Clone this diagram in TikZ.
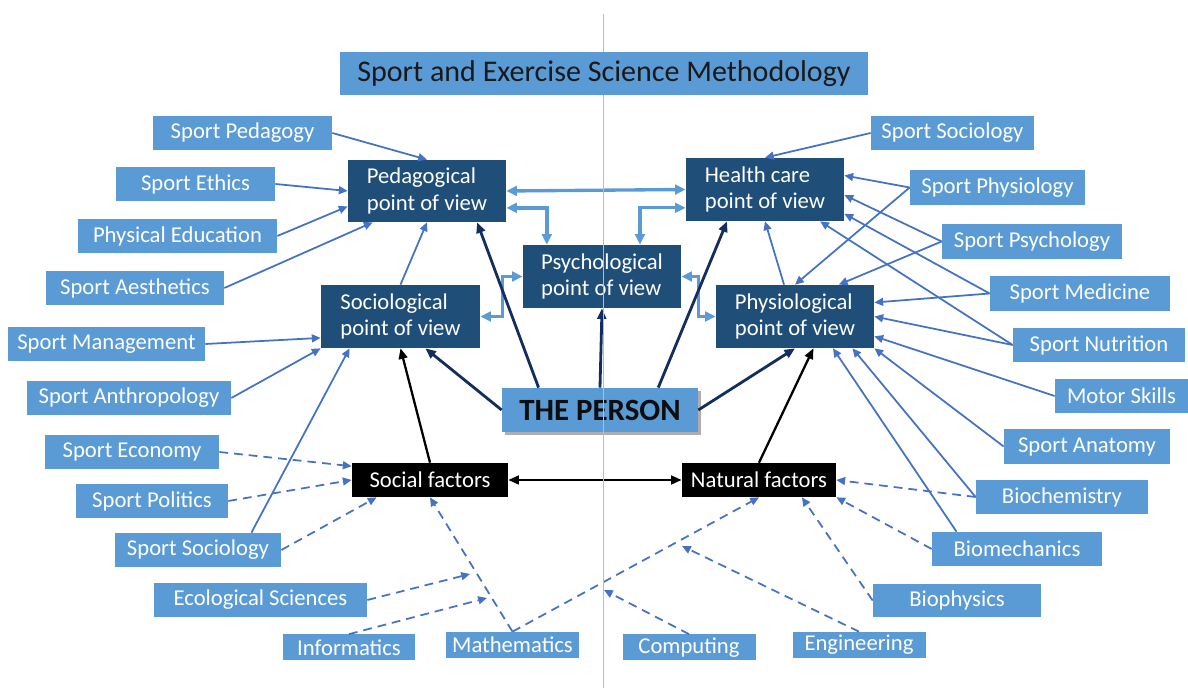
\documentclass[tikz,border=0pt]{standalone}
\usepackage{fontspec}
\setmainfont{Carlito}
\usetikzlibrary{arrows.meta,shadows}

\definecolor{boxblue}{HTML}{5B9BD5}
\definecolor{viewblue}{HTML}{1F4E79}
\definecolor{linkblue}{HTML}{4472C4}
\definecolor{navyline}{HTML}{132E5E}
\definecolor{axisblue}{HTML}{9DC3E6}

\tikzset{
  sz/.style 2 args={minimum width=#1*0.02cm, minimum height=#2*0.02cm},
  topic/.style={fill=boxblue, text=white, inner sep=0pt,
    font=\fontsize{12.9}{15}\selectfont},
  view/.style={fill=viewblue, text=white, inner sep=0pt, align=left,
    font=\fontsize{12.9}{15.3}\selectfont},
  factor/.style={fill=black, text=white, inner sep=0pt,
    font=\fontsize{12.9}{15}\selectfont},
  titlebox/.style={fill=boxblue, text=black!90, inner sep=0pt,
    font=\fontsize{17.1}{20}\selectfont},
  personbox/.style={fill=boxblue, text=black!95, inner sep=0pt,
    font=\fontsize{17.6}{20}\selectfont\bfseries,
    drop shadow={shadow xshift=1.6pt, shadow yshift=-1.6pt, opacity=0.45, fill=black!70}},
  tip/.style={-{Triangle[length=5pt,width=4.5pt]}},
  ln/.style={draw=linkblue, line width=1pt, tip},
  dl/.style={ln, dash pattern=on 5pt off 3.4pt},
  nv/.style={draw=navyline, line width=1.6pt, -{Triangle[length=6pt,width=5pt]}},
  bk/.style={draw=black, line width=1.3pt, -{Triangle[length=6pt,width=5pt]}},
  bkboth/.style={draw=black, line width=1.3pt,
    {Triangle[length=6pt,width=5pt]}-{Triangle[length=6pt,width=5pt]}},
  dbl/.style={draw=boxblue, line width=1.9pt,
    {Triangle[length=6pt,width=5.5pt]}-{Triangle[length=6pt,width=5.5pt]}},
  vline/.style={draw=axisblue, line width=0.45pt},
}

\begin{document}
\begin{tikzpicture}[x=0.02cm, y=-0.02cm]
\useasboundingbox (0,0) rectangle (1188,688);

% title
\node[titlebox, sz={528}{43}] (title) at (604,73.5) {Sport and Exercise Science Methodology};

% disciplines on the left
\node[topic, sz={179}{34}] (sped)  at (242.5,133) {Sport Pedagogy};
\node[topic, sz={159}{34}] (seth)  at (195.5,184) {Sport Ethics};
\node[topic, sz={199}{34}] (phed)  at (177.5,236) {Physical Education};
\node[topic, sz={178}{34}] (saes)  at (135,288)   {Sport Aesthetics};
\node[topic, sz={197}{34}] (smgt)  at (106.5,344) {Sport Management};
\node[topic, sz={204}{34}] (santh) at (129,398)   {Sport Anthropology};
\node[topic, sz={174}{34}] (seco)  at (132,452)   {Sport Economy};
\node[topic, sz={152}{34}] (spol)  at (152,501)   {Sport Politics};
\node[topic, sz={166}{34}] (ssocL) at (198,550)   {Sport Sociology};
\node[topic, sz={213}{34}] (eco)   at (260.5,600) {Ecological Sciences};

% disciplines along the bottom
\node[topic, sz={132}{26}] (info) at (349,647.5) {Informatics};
\node[topic, sz={133}{26}] (math) at (512.5,645) {Mathematics};
\node[topic, sz={133}{26}] (comp) at (689,647.5) {Computing};
\node[topic, sz={133}{26}] (eng)  at (859,645)   {Engineering};

% disciplines on the right
\node[topic, sz={163}{34}] (ssocR) at (952.5,133)  {Sport Sociology};
\node[topic, sz={175}{35}] (sphy)  at (997.5,187.5){Sport Physiology};
\node[topic, sz={180}{35}] (spsy)  at (1032,241.5) {Sport Psychology};
\node[topic, sz={180}{35}] (smed)  at (1080,293.5) {Sport Medicine};
\node[topic, sz={172}{34}] (snut)  at (1099,345)   {Sport Nutrition};
\node[topic, sz={133}{34}] (mot)   at (1121.5,396) {Motor Skills};
\node[topic, sz={166}{35}] (sanat) at (1087,446.5) {Sport Anatomy};
\node[topic, sz={172}{34}] (bchem) at (1062,497)   {Biochemistry};
\node[topic, sz={170}{34}] (bmech) at (1017,549)   {Biomechanics};
\node[topic, sz={168}{33}] (bphys) at (957,600.5)  {Biophysics};

% points of view
\node[view, sz={158}{62}] (ped) at (427,191)     {Pedagogical\\point of view};
\node[view, sz={158}{63}] (hc)  at (765,189.5)   {Health care\\point of view};
\node[view, sz={158}{63}] (psy) at (602,276.5)   {Psychological\\point of view};
\node[view, sz={159}{63}] (soc) at (400.5,316.5) {Sociological\\point of view};
\node[view, sz={158}{63}] (phy) at (795,316.5)   {Physiological\\point of view};

% the person and the two kinds of factors
\node[personbox, sz={196}{44}] (person) at (600,410) {THE PERSON};
\node[factor, sz={156}{34}] (socf) at (430,480) {Social factors};
\node[factor, sz={154}{34}] (natf) at (759,480) {Natural factors};

% ends of the arrows that meet the dashed lines from below
\coordinate (ecoT)  at (470,574);
\coordinate (infT)  at (487,598);
\coordinate (compT) at (604,590);
\coordinate (engT)  at (682,546);

% left disciplines -> pedagogical / sociological view
\draw[ln] (sped.east) -- (ped.north);
\draw[ln] (seth.east) -- (ped.west);
\draw[ln] (phed.east) -- (ped.191);
\draw[ln] (saes.east) -- (ped.210);
\draw[ln] (soc.north) -- (ped.south);
\draw[ln] (smgt.east) -- (soc.195);
\draw[ln] (santh.east) -- (soc.south west);
\draw[ln] (ssocL.18) -- (soc.212);

% dashed links into social factors
\draw[dl] (seco.east) -- (socf.170);
\draw[dl] (spol.east) -- (socf.west);
\draw[dl] (ssocL.east) -- (socf.198);
\draw[dl] (math.north) -- (socf.south);
\draw[dl] (eco.east) -- (ecoT);
\draw[dl] (info.north) -- (infT);

% dashed links into natural factors
\draw[dl] (math.north) -- (natf.south);
\draw[dl] (comp.north) -- (compT);
\draw[dl] (eng.north) -- (engT);
\draw[dl] (bchem.west) -- (natf.east);
\draw[dl] (bmech.west) -- (natf.south east);
\draw[dl] (bphys.west) -- (natf.-22);

% right disciplines -> health care / physiological view
\draw[ln] (ssocR.west) -- (hc.north);
\draw[ln] (sphy.west) -- (hc.10);
\draw[ln] (sphy.west) -- (phy.north);
\draw[ln] (spsy.west) -- (hc.-4);
\draw[ln] (spsy.west) -- (phy.36);
\draw[ln] (smed.west) -- (hc.-17);
\draw[ln] (smed.west) -- (phy.10);
\draw[ln] (snut.west) -- (hc.-30);
\draw[ln] (snut.west) -- (phy.east);
\draw[ln] (mot.west) -- (phy.-14);
\draw[ln] (sanat.west) -- (phy.south east);
\draw[ln] (bchem.west) -- (phy.-29);
\draw[ln] (bmech.164) -- (phy.-40);
\draw[ln] (phy.109) -- (hc.south);

% links between the points of view
\draw[dbl] (ped.east) -- (hc.west);
\draw[dbl] (ped.-12) -| (psy.150);
\draw[dbl] (hc.193) -| (psy.40);
\draw[dbl] (psy.west) -- ++(-20,0) |- (soc.east);
\draw[dbl] (psy.east) -- ++(17,0) |- (phy.west);

% the person -> points of view
\draw[nv] (person.160) -- (ped.-32);
\draw[nv] (person.west) -- (soc.-52);
\draw[nv] (person.north) -- (psy.south);
\draw[nv] (person.21) -- (hc.220);
\draw[nv] (person.east) -- (phy.south);

% factors -> points of view
\draw[bk] (socf.north) -- (soc.south);
\draw[bk] (natf.north) -- (phy.-60);
\draw[bkboth] (socf.east) -- (natf.west);

% central axis, interrupted by the title box
\draw[vline] (603,14) -- (title.north -| 603,0);
\draw[vline] (title.south -| 603,0) -- (603,688);
\end{tikzpicture}
\end{document}
